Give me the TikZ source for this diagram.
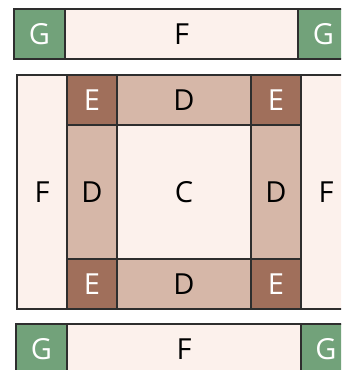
\documentclass[tikz,border=0pt]{standalone}
\usepackage{fontspec}
\setmainfont{Open Sans}
\usepackage{tikz}
\definecolor{BloqueG}{HTML}{72A27A}
\definecolor{BloqueF}{HTML}{FCF1EC}
\definecolor{BloqueD}{HTML}{D6B7A8}
\definecolor{BloqueE}{HTML}{A06F5B}
\definecolor{Borde}{HTML}{2E2E2E}
\tikzset{
  celda/.style={draw=Borde,line width=1.1pt,anchor=north west,inner sep=0pt,outer sep=0pt},
  verde/.style={celda,fill=BloqueG,text=white},
  claro/.style={celda,fill=BloqueF},
  medio/.style={celda,fill=BloqueD},
  oscuro/.style={celda,fill=BloqueE,text=white}
}
\begin{document}
\begin{tikzpicture}[x=1pt,y=-1pt,font=\fontsize{29}{32}\selectfont]
\useasboundingbox (0,0) rectangle (341,370);
\clip (0,0) rectangle (341,370);
% franja superior
\node[verde,minimum width=51pt,minimum height=50pt] (g1) at (14,9) {G};
\node[claro,minimum width=233pt,minimum height=50pt] (f1) at (65,9) {F};
\node[verde,minimum width=51pt,minimum height=50pt] (g2) at (298,9) {G};
% bloque central
\node[claro,minimum width=50pt,minimum height=234pt] (fizq) at (17,75) {F};
\node[oscuro,minimum width=50pt,minimum height=50pt] (e1) at (67,75) {E};
\node[medio,minimum width=134pt,minimum height=50pt] (darr) at (117,75) {D};
\node[oscuro,minimum width=50pt,minimum height=50pt] (e2) at (251,75) {E};
\node[medio,minimum width=50pt,minimum height=134pt] (dizq) at (67,125) {D};
\node[claro,minimum width=134pt,minimum height=134pt] (c) at (117,125) {C};
\node[medio,minimum width=50pt,minimum height=134pt] (dder) at (251,125) {D};
\node[oscuro,minimum width=50pt,minimum height=50pt] (e3) at (67,259) {E};
\node[medio,minimum width=134pt,minimum height=50pt] (dab) at (117,259) {D};
\node[oscuro,minimum width=50pt,minimum height=50pt] (e4) at (251,259) {E};
\node[claro,minimum width=50pt,minimum height=234pt] (fder) at (301,75) {F};
% franja inferior
\node[verde,minimum width=51pt,minimum height=50pt] (g3) at (16,324) {G};
\node[claro,minimum width=234pt,minimum height=50pt] (f2) at (67,324) {F};
\node[verde,minimum width=50pt,minimum height=50pt] (g4) at (301,324) {G};
\end{tikzpicture}
\end{document}
